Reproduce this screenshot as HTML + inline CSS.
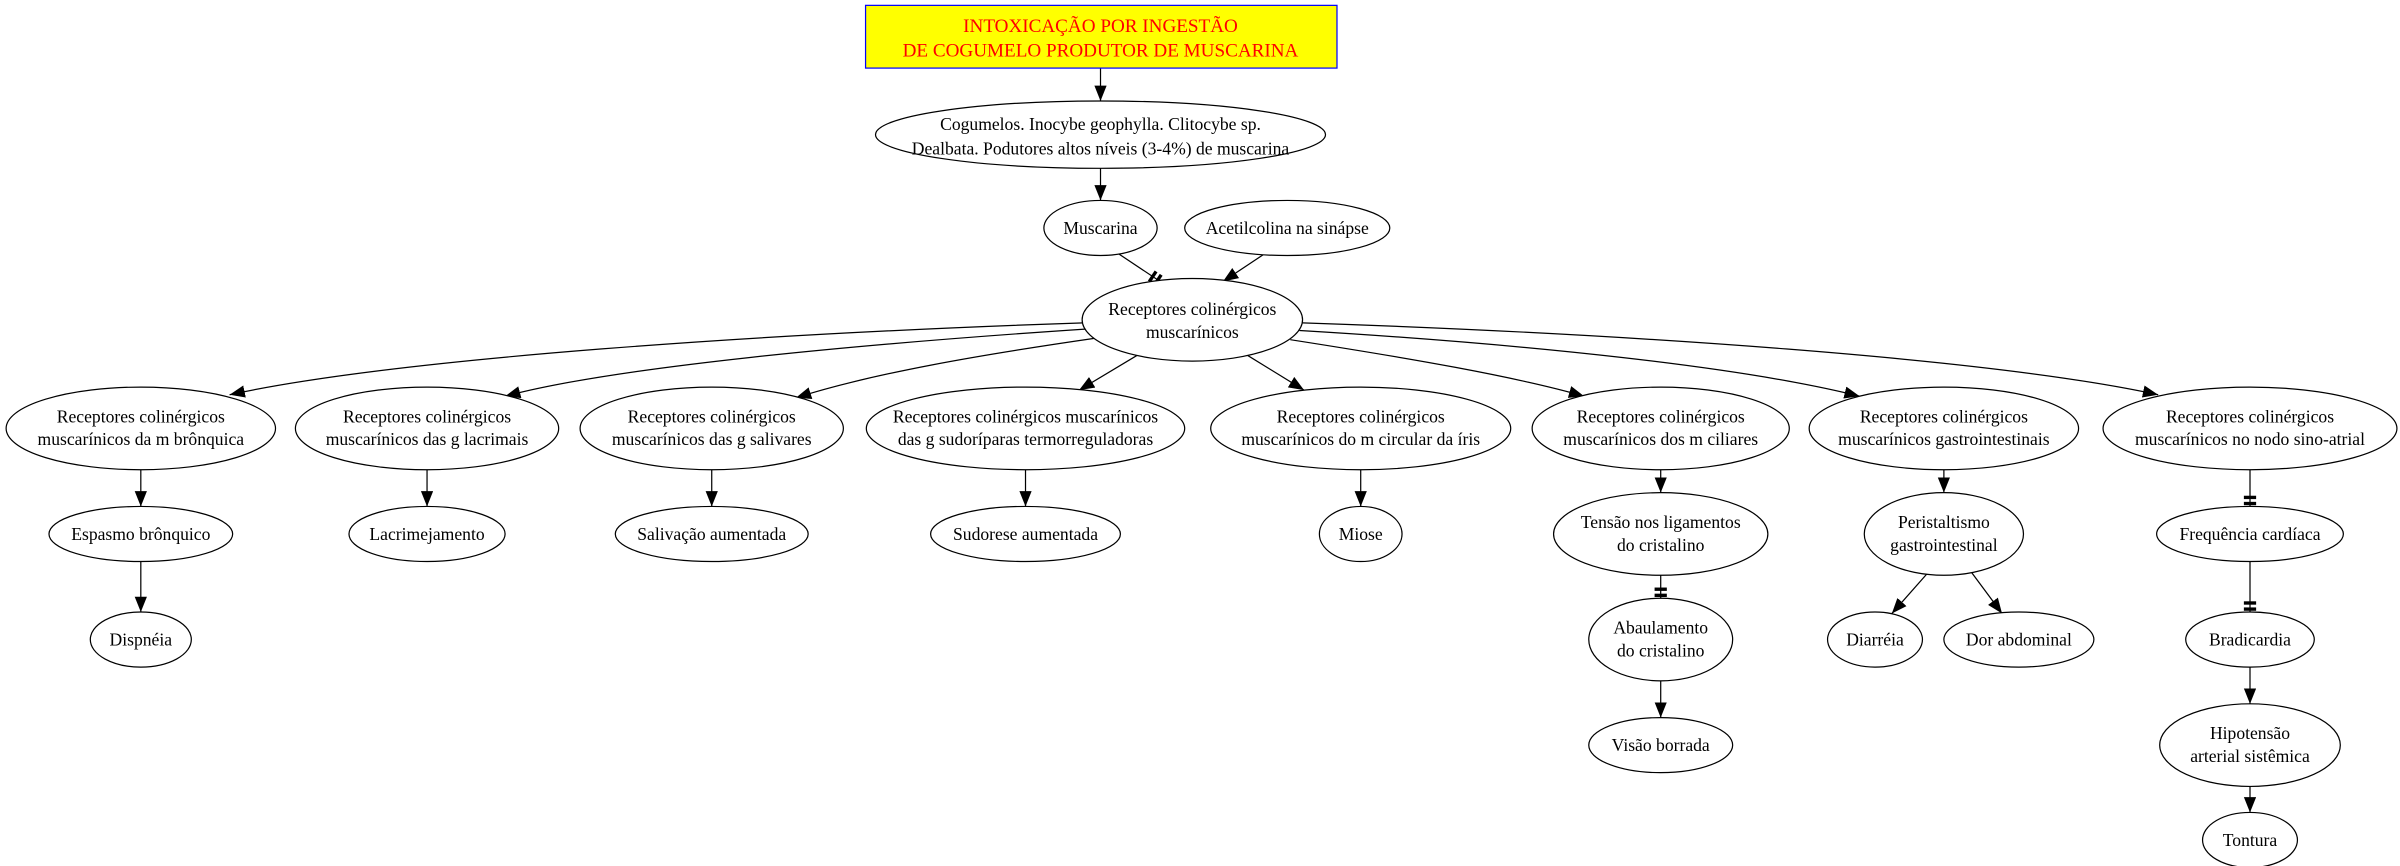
<!DOCTYPE html>
<html><head><meta charset="utf-8"><style>
html,body{margin:0;padding:0;background:#fff;}
svg{display:block;}
text{font-family:"Liberation Serif",serif;font-size:11.5px;fill:#000;text-anchor:middle;}
</style></head><body>
<svg width="2400" height="866" viewBox="0 0 1568 566" preserveAspectRatio="none" xmlns="http://www.w3.org/2000/svg">
<defs>
<marker id="a" markerUnits="userSpaceOnUse" markerWidth="12" markerHeight="10" refX="10" refY="4" orient="auto"><path d="M0,0 L10,4 L0,8 Z" fill="#000"/></marker>
<marker id="t" markerUnits="userSpaceOnUse" markerWidth="12" markerHeight="12" refX="8" refY="5" orient="auto"><rect x="1" y="1" width="2.2" height="8" fill="#000"/><rect x="5" y="1" width="2.2" height="8" fill="#000"/></marker>
</defs>
<g fill="none" stroke="#000" stroke-width="0.8">
<path d="M719,44 L719,66" marker-end="url(#a)"/>
<path d="M719,110 L719,131" marker-end="url(#a)"/>
<path d="M731,166 L758,184" marker-end="url(#t)"/>
<path d="M826,166 L799,184" marker-end="url(#a)"/>
<path d="M708,211 C500,218 260,234 150,258" marker-end="url(#a)"/>
<path d="M710,215 C560,225 400,240 330,259" marker-end="url(#a)"/>
<path d="M716,221 C640,232 570,244 520,260" marker-end="url(#a)"/>
<path d="M745,231 L705,255" marker-end="url(#a)"/>
<path d="M813,231 L852,255" marker-end="url(#a)"/>
<path d="M843,222 C920,234 990,246 1035,259" marker-end="url(#a)"/>
<path d="M849,216 C1000,225 1140,240 1215,259" marker-end="url(#a)"/>
<path d="M851,211 C1060,218 1300,234 1410,258" marker-end="url(#a)"/>
<path d="M92,307 L92,331" marker-end="url(#a)"/>
<path d="M279,307 L279,331" marker-end="url(#a)"/>
<path d="M465,307 L465,331" marker-end="url(#a)"/>
<path d="M670,307 L670,331" marker-end="url(#a)"/>
<path d="M889,307 L889,331" marker-end="url(#a)"/>
<path d="M1085,307 L1085,322" marker-end="url(#a)"/>
<path d="M1270,307 L1270,322" marker-end="url(#a)"/>
<path d="M1470,307 L1470,331" marker-end="url(#t)"/>
<path d="M92,367 L92,400" marker-end="url(#a)"/>
<path d="M1085,376 L1085,391" marker-end="url(#t)"/>
<path d="M1259,375 L1236,401" marker-end="url(#a)"/>
<path d="M1288,374 L1308,401" marker-end="url(#a)"/>
<path d="M1470,367 L1470,400" marker-end="url(#t)"/>
<path d="M1085,445 L1085,469" marker-end="url(#a)"/>
<path d="M1470,436 L1470,460" marker-end="url(#a)"/>
<path d="M1470,514 L1470,531" marker-end="url(#a)"/>
</g>
<rect x="565.5" y="3.5" width="308" height="41" fill="#ffff00" stroke="#0000ff" stroke-width="0.8"/>
<text x="719" y="21" style="fill:#ff0000;font-size:12.5px">INTOXICAÇÃO POR INGESTÃO</text>
<text x="719" y="37" style="fill:#ff0000;font-size:12.5px">DE COGUMELO PRODUTOR DE MUSCARINA</text>
<g fill="#fff" stroke="#000" stroke-width="0.8">
<ellipse cx="719" cy="88" rx="147" ry="22"/>
<ellipse cx="719" cy="149" rx="37" ry="18"/>
<ellipse cx="841" cy="149" rx="67" ry="18"/>
<ellipse cx="779" cy="209" rx="72" ry="27"/>
<ellipse cx="92" cy="280" rx="88" ry="27"/>
<ellipse cx="279" cy="280" rx="86" ry="27"/>
<ellipse cx="465" cy="280" rx="86" ry="27"/>
<ellipse cx="670" cy="280" rx="104" ry="27"/>
<ellipse cx="889" cy="280" rx="98" ry="27"/>
<ellipse cx="1085" cy="280" rx="84" ry="27"/>
<ellipse cx="1270" cy="280" rx="88" ry="27"/>
<ellipse cx="1470" cy="280" rx="96" ry="27"/>
<ellipse cx="92" cy="349" rx="60" ry="18"/>
<ellipse cx="279" cy="349" rx="51" ry="18"/>
<ellipse cx="465" cy="349" rx="63" ry="18"/>
<ellipse cx="670" cy="349" rx="62" ry="18"/>
<ellipse cx="889" cy="349" rx="27" ry="18"/>
<ellipse cx="1085" cy="349" rx="70" ry="27"/>
<ellipse cx="1270" cy="349" rx="52" ry="27"/>
<ellipse cx="1470" cy="349" rx="61" ry="18"/>
<ellipse cx="92" cy="418" rx="33" ry="18"/>
<ellipse cx="1085" cy="418" rx="47" ry="27"/>
<ellipse cx="1225" cy="418" rx="31" ry="18"/>
<ellipse cx="1319" cy="418" rx="49" ry="18"/>
<ellipse cx="1470" cy="418" rx="42" ry="18"/>
<ellipse cx="1085" cy="487" rx="47" ry="18"/>
<ellipse cx="1470" cy="487" rx="59" ry="27"/>
<ellipse cx="1470" cy="549" rx="31" ry="18"/>
</g>
<text x="719" y="85">Cogumelos. Inocybe geophylla. Clitocybe sp.</text>
<text x="719" y="101">Dealbata. Podutores altos níveis (3-4%) de muscarina</text>
<text x="719" y="153">Muscarina</text>
<text x="841" y="153">Acetilcolina na sinápse</text>
<text x="779" y="206">Receptores colinérgicos</text>
<text x="779" y="221">muscarínicos</text>
<text x="92" y="276">Receptores colinérgicos</text><text x="92" y="291">muscarínicos da m brônquica</text>
<text x="279" y="276">Receptores colinérgicos</text><text x="279" y="291">muscarínicos das g lacrimais</text>
<text x="465" y="276">Receptores colinérgicos</text><text x="465" y="291">muscarínicos das g salivares</text>
<text x="670" y="276">Receptores colinérgicos muscarínicos</text><text x="670" y="291">das g sudoríparas termorreguladoras</text>
<text x="889" y="276">Receptores colinérgicos</text><text x="889" y="291">muscarínicos do m circular da íris</text>
<text x="1085" y="276">Receptores colinérgicos</text><text x="1085" y="291">muscarínicos dos m ciliares</text>
<text x="1270" y="276">Receptores colinérgicos</text><text x="1270" y="291">muscarínicos gastrointestinais</text>
<text x="1470" y="276">Receptores colinérgicos</text><text x="1470" y="291">muscarínicos no nodo sino-atrial</text>
<text x="92" y="353">Espasmo brônquico</text>
<text x="279" y="353">Lacrimejamento</text>
<text x="465" y="353">Salivação aumentada</text>
<text x="670" y="353">Sudorese aumentada</text>
<text x="889" y="353">Miose</text>
<text x="1085" y="345">Tensão nos ligamentos</text><text x="1085" y="360">do cristalino</text>
<text x="1270" y="345">Peristaltismo</text><text x="1270" y="360">gastrointestinal</text>
<text x="1470" y="353">Frequência cardíaca</text>
<text x="92" y="422">Dispnéia</text>
<text x="1085" y="414">Abaulamento</text><text x="1085" y="429">do cristalino</text>
<text x="1225" y="422">Diarréia</text>
<text x="1319" y="422">Dor abdominal</text>
<text x="1470" y="422">Bradicardia</text>
<text x="1085" y="491">Visão borrada</text>
<text x="1470" y="483">Hipotensão</text><text x="1470" y="498">arterial sistêmica</text>
<text x="1470" y="553">Tontura</text>
</svg>
</body></html>
